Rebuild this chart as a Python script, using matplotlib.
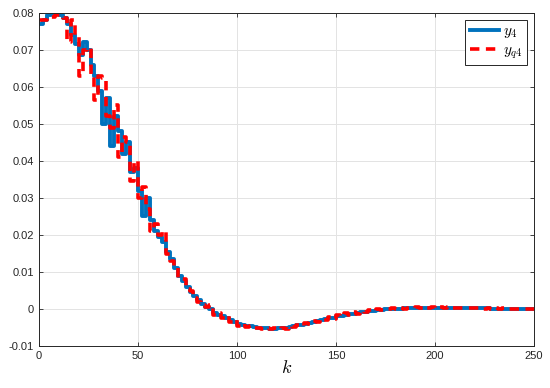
import numpy as np
import matplotlib
matplotlib.use("Agg")
import matplotlib.pyplot as plt

# samples every 2 steps of k, values in units of 1e-3
k = np.arange(0, 252, 2)

y4 = [77, 78, 79.5, 80, 80, 79.5, 78.5, 77, 74, 71.5,
      68.5, 72, 70, 66, 63, 59, 50, 57, 44, 52,
      48, 42, 45, 37, 38, 32, 25, 30, 24, 21,
      19.5, 18, 15.5, 13.5, 11, 9, 7.5, 6, 4.5, 3.5,
      2.5, 1.5, 0.5, 0, -1, -1.5, -2, -2.5, -3, -3.5,
      -4, -4.3, -4.5, -4.7, -4.9, -5.0, -5.1, -5.2, -5.3, -5.3,
      -5.2, -5.1, -5.0, -4.8, -4.6, -4.4, -4.2, -4.0, -3.8, -3.5,
      -3.3, -3.0, -2.8, -2.5, -2.3, -2.0, -1.8, -1.6, -1.4, -1.2,
      -1.0, -0.8, -0.7, -0.5, -0.4, -0.3, -0.2, -0.1, 0.0, 0.0,
      0.1, 0.1, 0.2, 0.2, 0.3, 0.3, 0.3, 0.4, 0.4, 0.4,
      0.4, 0.4, 0.4, 0.4, 0.4, 0.4, 0.4, 0.3, 0.3, 0.3,
      0.3, 0.2, 0.2, 0.2, 0.1, 0.1, 0.1, 0.1, 0.0, 0.0,
      0.0, 0.0, 0.0, 0.0, 0.0, 0.0]

yq4 = [78, 78, 78.5, 79, 79.5, 79.5, 78.5, 72, 78, 74,
       63, 70, 70.5, 63.5, 56.5, 63, 62.5, 52, 49, 55,
       41, 46.5, 45, 34.5, 40, 30, 33, 27, 21, 23,
       20, 21, 15, 13, 11.5, 8.5, 8, 5.5, 5, 3,
       2, 1, 0.5, 1.0, -1.5, -1.0, -2.5, -2.0, -3.5, -3.0,
       -4.5, -4.0, -4.8, -4.5, -5.0, -5.0, -5.3, -5.0, -5.5, -5.2,
       -5.5, -5.0, -5.3, -4.7, -4.8, -4.2, -4.5, -3.8, -4.0, -3.2,
       -3.5, -2.7, -3.0, -2.2, -2.6, -1.6, -2.0, -1.1, -1.6, -0.8,
       -1.2, -0.4, -0.8, -0.2, -0.5, -0.1, -0.3, 0.1, -0.1, 0.2,
       0.0, 0.3, 0.1, 0.4, 0.2, 0.5, 0.3, 0.5, 0.3, 0.5,
       0.4, 0.5, 0.3, 0.5, 0.3, 0.4, 0.3, 0.4, 0.2, 0.4,
       0.2, 0.3, 0.1, 0.3, 0.1, 0.2, 0.0, 0.2, 0.0, 0.1,
       0.0, 0.1, 0.0, 0.0, 0.0, 0.0]

y4 = np.array(y4) * 1e-3
yq4 = np.array(yq4) * 1e-3

plt.rcParams['mathtext.fontset'] = 'cm'
plt.rcParams['font.family'] = 'Liberation Sans'

fig = plt.figure(figsize=(5.5, 3.88), dpi=100)
ax = fig.add_axes([0.071, 0.108, 0.9, 0.859])

ax.step(k, y4, where='post', color='#0072BD', lw=2.8, label='$y_4$')
ax.step(k, yq4, where='post', color='#FF0000', lw=2.6, ls=(0, (2.6, 1.8)), label='$y_{q4}$')

ax.set_xlim(0, 250)
ax.set_ylim(-0.01, 0.08)
ax.set_xticks(np.arange(0, 251, 50))
ax.set_yticks(np.arange(-0.01, 0.081, 0.01))
ax.set_yticklabels(['-0.01', '0', '0.01', '0.02', '0.03', '0.04', '0.05', '0.06', '0.07', '0.08'])
ax.grid(True, color='#e3e3e3', lw=0.7)
ax.set_axisbelow(True)
ax.tick_params(direction='in', top=True, right=True, labelsize=8, length=3, width=0.6, colors='#262626')
for s in ax.spines.values():
    s.set_linewidth(0.7)
    s.set_color('#262626')
ax.set_xlabel('$k$', fontsize=13, labelpad=-1)

leg = ax.legend(loc='upper right', fontsize=11, handlelength=1.9, handletextpad=0.3,
                borderpad=0.3, labelspacing=0.2, fancybox=False, framealpha=1,
                borderaxespad=0.45)
leg.get_frame().set_edgecolor('#262626')
leg.get_frame().set_linewidth(0.7)

fig.savefig('out.png', dpi=100)
